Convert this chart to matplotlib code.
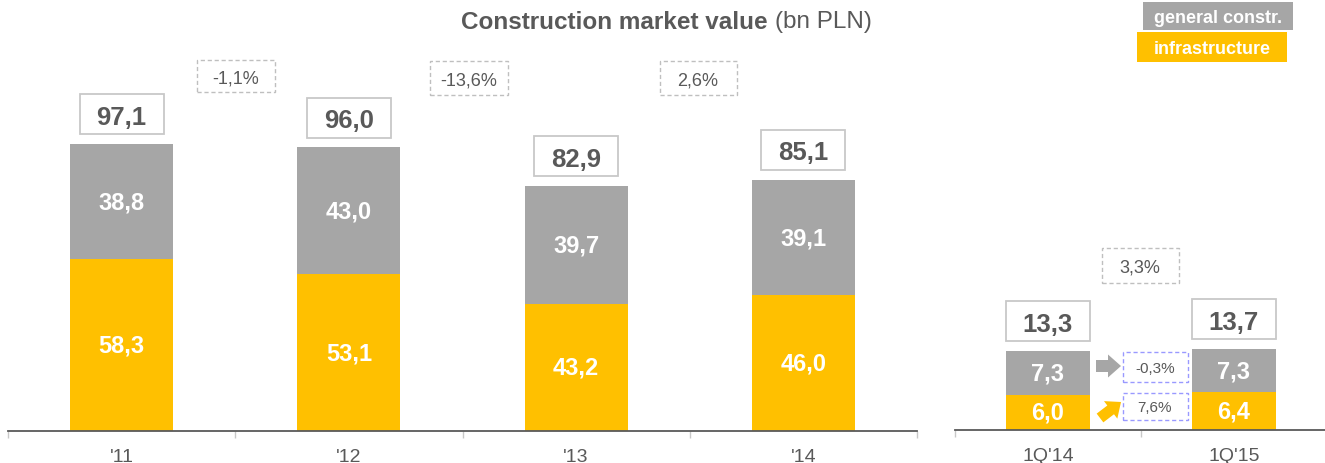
import matplotlib
matplotlib.use('Agg')
import matplotlib.pyplot as plt
from matplotlib.patches import Rectangle, FancyArrow
from matplotlib.transforms import IdentityTransform

plt.rcParams['font.family'] = ['Liberation Sans', 'DejaVu Sans']

# data
years = ["'11", "'12", "'13", "'14"]
infra = [58.3, 53.1, 43.2, 46.0]
general = [38.8, 43.0, 39.7, 39.1]
totals = [97.1, 96.0, 82.9, 85.1]
yoy_change = ['-1,1%', '-13,6%', '2,6%']

quarters = ["1Q'14", "1Q'15"]
q_infra = [6.0, 6.4]
q_general = [7.3, 7.3]
q_totals = [13.3, 13.7]
q_change = '3,3%'
q_general_change = '-0,3%'
q_infra_change = '7,6%'

GRAY = '#a6a6a6'
YELLOW = '#ffc000'
TEXT = '#595959'
W, H = 1325, 464


def fmt(v):
    return f'{v:.1f}'.replace('.', ',')


fig = plt.figure(figsize=(W / 100, H / 100), dpi=100)
ax1 = fig.add_axes([8 / W, (H - 432) / H, 909 / W, 432 / H])
ax2 = fig.add_axes([955 / W, (H - 431) / H, 372 / W, 431 / H])


def stacked(ax, labels, low, high, width, top):
    x = list(range(len(labels)))
    ax.bar(x, low, width=width, color=YELLOW, edgecolor='none')
    ax.bar(x, high, width=width, bottom=low, color=GRAY, edgecolor='none')
    for i in x:
        ax.text(i, low[i] / 2, fmt(low[i]), ha='center', va='center',
                color='white', fontsize=17, fontweight='bold')
        ax.text(i, low[i] + high[i] / 2, fmt(high[i]), ha='center', va='center',
                color='white', fontsize=17, fontweight='bold')
    ax.set_xlim(-0.5, len(labels) - 0.5)
    ax.set_ylim(0, top)
    for s in ['top', 'left', 'right']:
        ax.spines[s].set_visible(False)
    ax.spines['bottom'].set_color(TEXT)
    ax.spines['bottom'].set_linewidth(1.3)
    ax.set_yticks([])
    ax.set_xticks(x)
    ax.set_xticklabels(labels, fontsize=14, color=TEXT)
    ax.tick_params(axis='x', which='major', length=0, pad=12)
    ax.set_xticks([i - 0.5 for i in range(len(labels) + 1)], minor=True)
    ax.tick_params(axis='x', which='minor', length=5, width=1, color='#c8c8c8')


stacked(ax1, years, infra, general, 0.454, 146.4)
stacked(ax2, quarters, q_infra, q_general, 0.45, 73.0)


def total_box(ax, x, total):
    px, py = ax.transData.transform((x, total))
    fig.add_artist(Rectangle((px - 42, py + 10), 84, 40, transform=IdentityTransform(),
                             facecolor='white', edgecolor='#c8c8c8', lw=1.3))
    fig.text(px, py + 30, fmt(total), transform=IdentityTransform(), ha='center',
             va='center_baseline', fontsize=18.5, fontweight='bold', color=TEXT)


for i, t in enumerate(totals):
    total_box(ax1, i, t)
for i, t in enumerate(q_totals):
    total_box(ax2, i, t)


def pct_box(cx, cy_top, w, h, label, edge, size):
    cy = H - cy_top
    fig.add_artist(Rectangle((cx - w / 2, cy - h / 2), w, h, transform=IdentityTransform(),
                             facecolor='white', edgecolor=edge, lw=1, ls=(0, (3, 2))))
    fig.text(cx, cy, label, transform=IdentityTransform(), ha='center',
             va='center_baseline', fontsize=size, color=TEXT)


pct_box(236, 77, 78, 32, yoy_change[0], '#bfbfbf', 13)
pct_box(469, 79, 78, 34, yoy_change[1], '#bfbfbf', 13)
pct_box(698, 79, 77, 34, yoy_change[2], '#bfbfbf', 13)
pct_box(1140, 266, 77, 35, q_change, '#bfbfbf', 13)
pct_box(1155, 368, 65, 30, q_general_change, '#9999ff', 11)
pct_box(1155, 407, 65, 27, q_infra_change, '#9999ff', 11)

# arrows between quarterly bars
fig.add_artist(FancyArrow(1096, H - 367, 25, 0, width=12, head_width=23, head_length=13,
                          length_includes_head=True, transform=IdentityTransform(),
                          color=GRAY, lw=0))
fig.add_artist(FancyArrow(1100, H - 419, 21, 16, width=11, head_width=22, head_length=13,
                          length_includes_head=True, transform=IdentityTransform(),
                          color=YELLOW, lw=0))

# title
fig.text(768, H - 20, 'Construction market value', transform=IdentityTransform(),
         ha='right', va='center_baseline', fontsize=17.5, fontweight='bold', color=TEXT)
fig.text(775, H - 20, '(bn PLN)', transform=IdentityTransform(),
         ha='left', va='center_baseline', fontsize=17.5, color=TEXT)

# legend boxes
for cx, cy, w, h, col, lab in [(1218, 17, 150, 28, GRAY, 'general constr.'),
                               (1212, 48, 150, 30, YELLOW, 'infrastructure')]:
    fig.add_artist(Rectangle((cx - w / 2, H - cy - h / 2), w, h, transform=IdentityTransform(),
                             facecolor=col, edgecolor='none'))
    fig.text(cx, H - cy, lab, transform=IdentityTransform(), ha='center',
             va='center_baseline', fontsize=13, fontweight='bold', color='white')

fig.savefig('out.png', dpi=100)
